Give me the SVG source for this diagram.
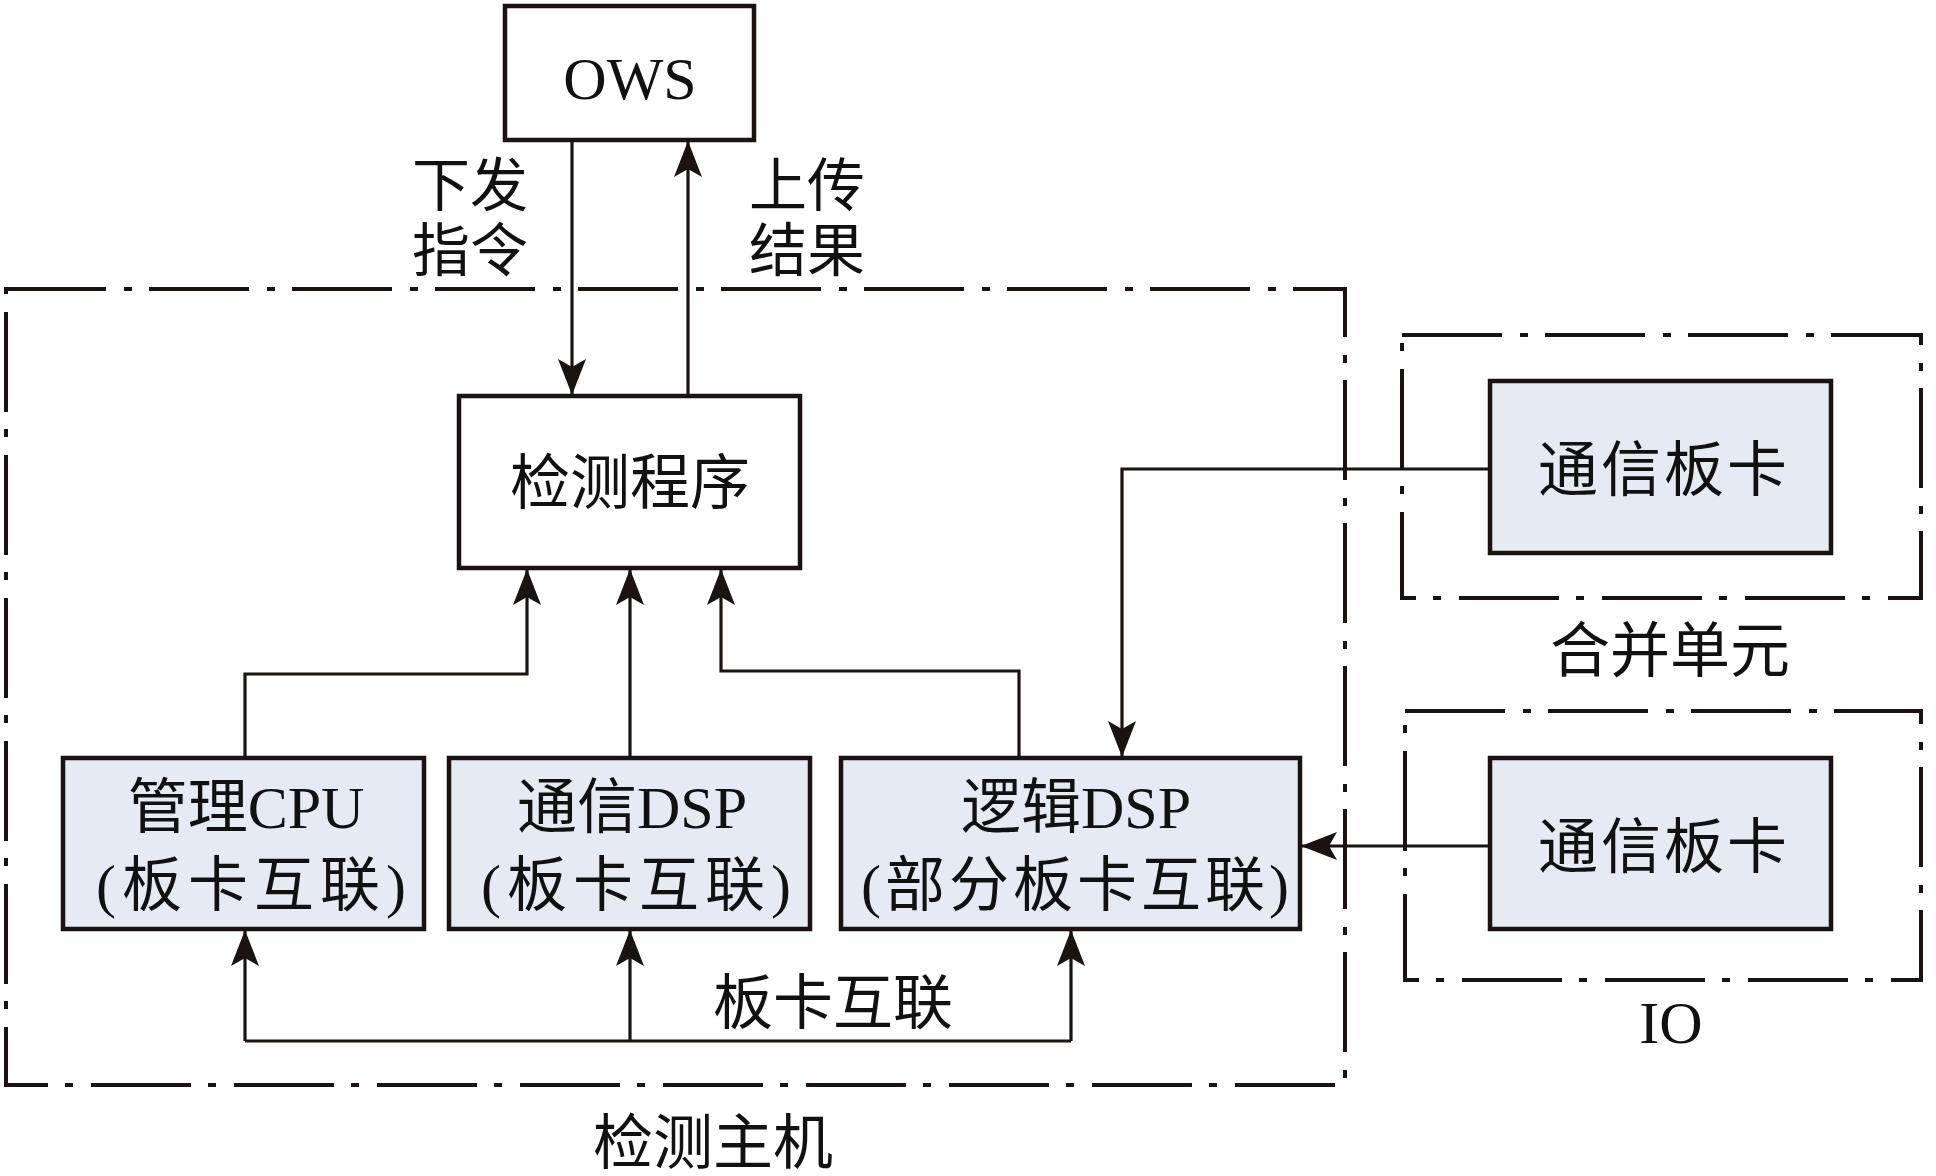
<svg xmlns="http://www.w3.org/2000/svg" width="1936" height="1176" viewBox="0 0 1936 1176">
<style>
  .box{fill:#ffffff;stroke:#1a1311;stroke-width:4.5}
  .card{fill:#e6eaf2;stroke:#1a1311;stroke-width:4.5}
  .grp{fill:none;stroke:#1a1311;stroke-width:4;stroke-dasharray:100 18 8 17}
  .wire{fill:none;stroke:#1a1311;stroke-width:3.2}
  text{font-family:"Liberation Serif","Noto Sans CJK SC",serif;font-size:60px;fill:#111;text-anchor:middle}
  .par{letter-spacing:6px}
</style>
<defs>
  <marker id="ah" viewBox="0 0 36 28" refX="35" refY="14" markerWidth="36" markerHeight="28" markerUnits="userSpaceOnUse" orient="auto">
    <path d="M0,0 L36,14 L0,28 L8,14 Z" fill="#1a1311"/>
  </marker>
</defs>
<rect width="1936" height="1176" fill="#ffffff"/>

<g id="group-host">
  <rect class="grp" x="6" y="289" width="1339" height="796"/>
  <text x="713" y="1164">检测主机</text>
</g>
<g id="group-merge">
  <rect class="grp" x="1402" y="335" width="519" height="263"/>
  <text x="1670" y="672">合并单元</text>
</g>
<g id="group-io">
  <rect class="grp" x="1405" y="711" width="516" height="269"/>
  <text x="1671" y="1043">IO</text>
</g>

<g id="connectors">
  <path class="wire" d="M572,140 V394" marker-end="url(#ah)"/>
  <path class="wire" d="M688,396 V142" marker-end="url(#ah)"/>
  <path class="wire" d="M245,758 V674 H527 V570" marker-end="url(#ah)"/>
  <path class="wire" d="M630,758 V570" marker-end="url(#ah)"/>
  <path class="wire" d="M1019,758 V671 H721 V570" marker-end="url(#ah)"/>
  <path class="wire" d="M1490,469 H1122 V756" marker-end="url(#ah)"/>
  <path class="wire" d="M1490,846 H1302" marker-end="url(#ah)"/>
  <path class="wire" d="M245,1041 H1071"/>
  <path class="wire" d="M245,1041 V931" marker-end="url(#ah)"/>
  <path class="wire" d="M630,1041 V931" marker-end="url(#ah)"/>
  <path class="wire" d="M1071,1041 V931" marker-end="url(#ah)"/>
  <text x="833" y="1024">板卡互联</text>
  <text x="470" y="206" style="font-size:58px">下发</text>
  <text x="470" y="271" style="font-size:58px">指令</text>
  <text x="807" y="206" style="font-size:58px">上传</text>
  <text x="807" y="271" style="font-size:58px">结果</text>
</g>

<g id="node-ows">
  <rect class="box" x="505" y="6" width="249" height="134"/>
  <text x="630" y="99">OWS</text>
</g>
<g id="node-detect">
  <rect class="box" x="459" y="396" width="341" height="172"/>
  <text x="630" y="504">检测程序</text>
</g>
<g id="node-cpu">
  <rect class="card" x="63" y="758" width="361" height="171"/>
  <text x="246" y="828">管理CPU</text>
  <text class="par" x="254" y="906">(板卡互联)</text>
</g>
<g id="node-comdsp">
  <rect class="card" x="449" y="758" width="361" height="171"/>
  <text x="632" y="828">通信DSP</text>
  <text class="par" x="639" y="906">(板卡互联)</text>
</g>
<g id="node-logicdsp">
  <rect class="card" x="841" y="758" width="459" height="171"/>
  <text x="1076" y="828">逻辑DSP</text>
  <text x="1077" y="906" style="letter-spacing:4px">(部分板卡互联)</text>
</g>
<g id="node-card1">
  <rect class="card" x="1490" y="381" width="341" height="172"/>
  <text x="1664" y="491" style="letter-spacing:3px">通信板卡</text>
</g>
<g id="node-card2">
  <rect class="card" x="1490" y="758" width="341" height="171"/>
  <text x="1664" y="868" style="letter-spacing:3px">通信板卡</text>
</g>
</svg>
